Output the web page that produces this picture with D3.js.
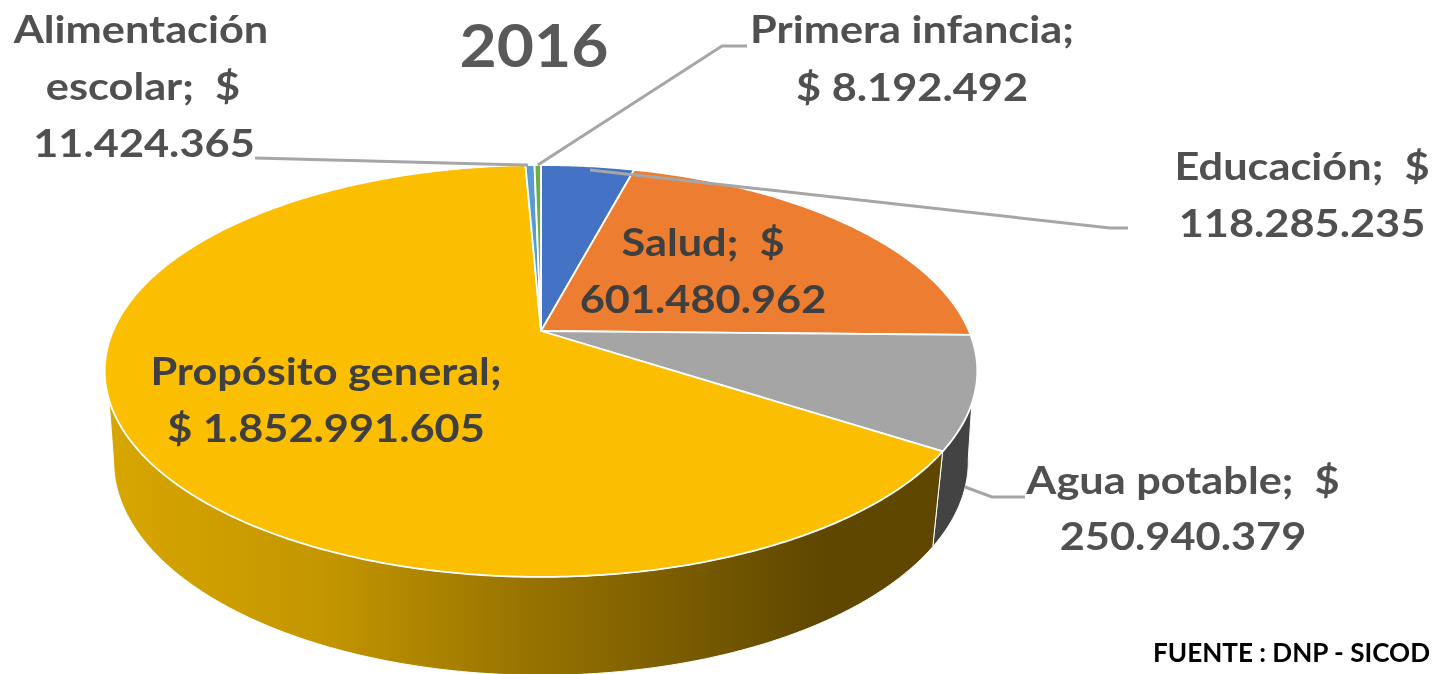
<!DOCTYPE html>
<html><head><meta charset="utf-8">
<script src="https://cdn.jsdelivr.net/npm/d3@7"></script>
<style>html,body{margin:0;padding:0;background:#fff;overflow:hidden}svg{display:block;filter:blur(0.7px)}text{font-family:Lato,"Open Sans",sans-serif;font-weight:700}</style>
</head><body><svg id="c" width="1432" height="674"></svg>
<script>
const title = "2016";
const source = "FUENTE : DNP - SICOD";
const categories = ["Educación","Salud","Agua potable","Propósito general","Alimentación escolar","Primera infancia"];
const values = [118285235,601480962,250940379,1852991605,11424365,8192492];
const colors = ["#4472c4","#ed7d31","#a5a5a5","#fcbe00","#5b9bd5","#70ad47"];
const goldSideStops = [[0,"#d8a600"],[0.27,"#c49600"],[0.54,"#967200"],[0.9,"#5f4700"],[1,"#5f4700"]];
const greySide = "#434343";

const fmt = d3.formatLocale({decimal:",",thousands:".",grouping:[3],currency:["$ ",""]}).format("$,");
const val = i => fmt(values[i]).replace(/^\$ ?/,"");

// Perspective projection of the pie's circular faces
const topFace = {cx:541,R:428,a:134,b:331,c:-0.194};
const botFace = {cx:541,R:420,a:129,b:422,c:-0.184};
const project = (f,t)=>{const x=Math.sin(t),y=-Math.cos(t),d=1+f.c*y;return [f.cx+f.R*x/d,(f.a*y+f.b)/d];};
const rim = (f,t0,t1)=>{const n=Math.max(2,Math.ceil(Math.abs(t1-t0)/0.01));return d3.range(n+1).map(i=>project(f,t0+(t1-t0)*i/n));};
const deg = d=>d*Math.PI/180;

const svg = d3.select("#c");
const arcs = d3.pie().sort(null).value(d=>d)(values);
const line = d3.line();

const grad = svg.append("defs").append("linearGradient").attr("id","gold")
  .attr("gradientUnits","userSpaceOnUse").attr("x1",107).attr("x2",900).attr("y1",0).attr("y2",0);
grad.selectAll("stop").data(goldSideStops).join("stop").attr("offset",d=>d[0]).attr("stop-color",d=>d[1]);

// Side walls
const seam = arcs[2].endAngle;
svg.append("path").attr("d",line(rim(topFace,deg(110),seam).concat(rim(botFace,seam,deg(100))))+"Z")
  .attr("fill",greySide).attr("stroke","#fff").attr("stroke-width",1);
svg.append("path").attr("d",line(rim(topFace,seam,deg(251)).concat(rim(botFace,deg(259),seam)))+"Z")
  .attr("fill","url(#gold)").attr("stroke","#fff").attr("stroke-width",1);

// Top face
svg.append("g").selectAll("path").data(arcs).join("path")
  .attr("d",d=>line([[topFace.cx,topFace.b]].concat(rim(topFace,d.startAngle,d.endAngle)))+"Z")
  .attr("fill",(d,i)=>colors[i]).attr("stroke","#fff").attr("stroke-width",1.8).attr("stroke-linejoin","round");

// Leader lines
const mid = i=>(arcs[i].startAngle+arcs[i].endAngle)/2;
const leaders = [
  [[1128,228],[1110,228],[590,170]],
  [[1025,497],[992,497],[965,487]],
  [[255,158],[project(topFace,mid(4))[0]-2,project(topFace,mid(4))[1]]],
  [[747,46],[722,46],project(topFace,mid(5))]
];
svg.append("g").selectAll("path").data(leaders).join("path").attr("d",d=>line(d))
  .attr("fill","none").attr("stroke","#a6a6a6").attr("stroke-width",3);

// Labels
const labels = [
  {t:categories[4].split(" ")[0],x:141,y:43},
  {t:categories[4].split(" ")[1]+";  $",x:143,y:100},
  {t:val(4),x:144,y:157},
  {t:categories[5]+";",x:912,y:43},
  {t:"$ "+val(5),x:912,y:101},
  {t:categories[0]+";  $",x:1302,y:180},
  {t:val(0),x:1302,y:237},
  {t:categories[2]+";  $",x:1183,y:494},
  {t:val(2),x:1183,y:550},
  {t:categories[1]+";  $",x:703,y:256,dark:1},
  {t:val(1),x:703,y:313,dark:1},
  {t:categories[3]+";",x:326,y:385,dark:1},
  {t:"$ "+val(3),x:326,y:442,dark:1}
];
const stretch = 1.14;
svg.append("g").selectAll("text").data(labels).join("text")
  .attr("transform",d=>`translate(${d.x},${d.y}) scale(${stretch},1)`).attr("text-anchor","middle").attr("font-size",38)
  .attr("fill",d=>d.dark?"#3f3f3f":"#505050").style("white-space","pre").text(d=>d.t);

svg.append("text").attr("transform","translate(534,67) scale(1.07,1)").attr("text-anchor","middle").attr("font-size",60).attr("fill","#595959").text(title);
svg.append("text").attr("x",1153).attr("y",662).attr("font-size",26).attr("fill","#000")
  .attr("textLength",277).attr("lengthAdjust","spacingAndGlyphs").text(source);
</script></body></html>
